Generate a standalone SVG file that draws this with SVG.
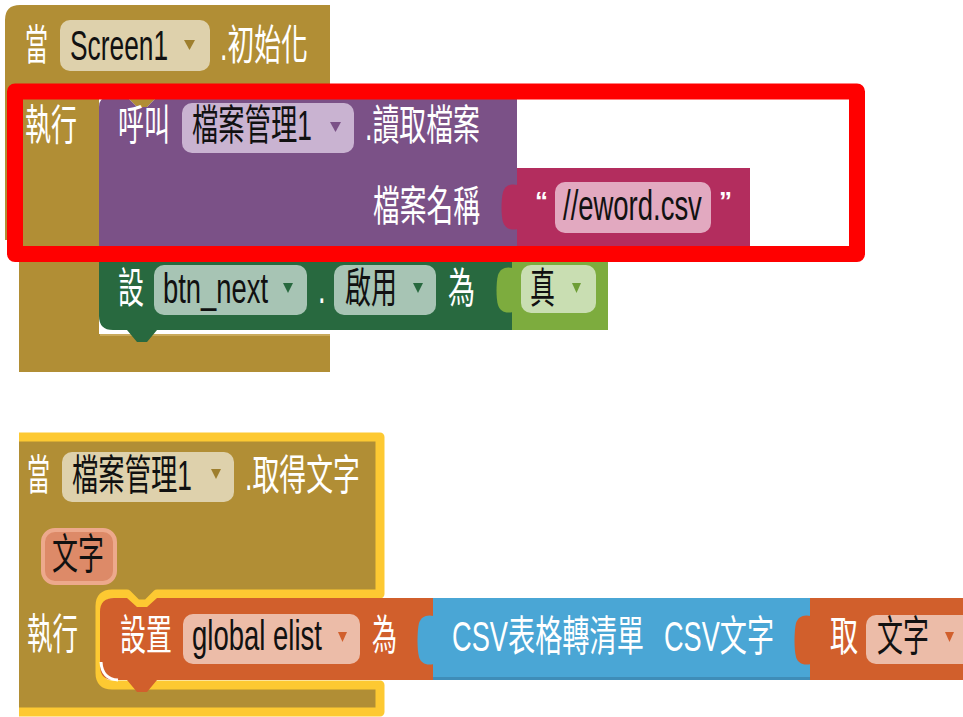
<svg xmlns="http://www.w3.org/2000/svg" width="963" height="717" viewBox="0 0 963 717">
<defs>
<style>
text{font-family:"Liberation Sans","Noto Sans CJK TC",sans-serif;font-size:42px}
.w{fill:#ffffff}
.k{fill:#111111}
.q{font-size:26px;font-weight:bold;fill:#ffffff}
.brown{fill:#B18E35}
.pill-brown{fill:#DED1AC}
.purple{fill:#7B5187}
.pill-purple{fill:#C9B3D1}
.magenta{fill:#B32D5E}
.pill-magenta{fill:#E2A9C0}
.green{fill:#28693F}
.pill-green{fill:#A7C4B4}
.lgreen{fill:#7DAC3E}
.pill-lgreen{fill:#C9DEB2}
.orange{fill:#D15F2C}
.pill-orange{fill:#ECBCA8}
.blue{fill:#4AA6D5}
</style>
</defs>
<rect width="963" height="717" fill="#ffffff"/>

<g id="node-screen1-initialize">
<path class="brown" d="M5,20 Q5,5 20,5 H330 V97 H157 L147,107 H137 L127,97 H99 V334 H330 V372 H19 V240 H5 Z"/>
<line x1="100" y1="335" x2="330" y2="335" stroke="#C9AA5C" stroke-width="2"/>
<text class="w" transform="translate(25,60) scale(0.548,1)">當</text>
<rect class="pill-brown" x="60" y="20" width="150" height="51" rx="10"/>
<text class="k" transform="translate(70,60) scale(0.627,1)">Screen1</text>
<polygon points="184,40 195,40 189.5,50" fill="#9E7F2E"/>
<text class="w" transform="translate(220,60) scale(0.639,1)">.初始化</text>
<text class="w" transform="translate(25,140) scale(0.619,1)">執行</text>
</g>

<g id="node-call-read-file">
<path class="purple" d="M99,107 Q99,97 109,97 H127 L137,107 H147 L157,97 H517 V250 H99 Z"/>
<text class="w" transform="translate(118,140) scale(0.619,1)">呼叫</text>
<rect class="pill-purple" x="182" y="103" width="172" height="50" rx="10"/>
<text class="k" transform="translate(192,140) scale(0.627,1)">檔案管理1</text>
<polygon points="330,122 341,122 335.5,132" fill="#7B5187"/>
<text class="w" transform="translate(365,140) scale(0.64,1)">.讀取檔案</text>
<text class="w" transform="translate(373,221) scale(0.637,1)">檔案名稱</text>
</g>

<g id="node-text-eword">
<rect class="magenta" x="517" y="168" width="233" height="82"/>
<path class="magenta" d="M518,185 C510,183 505,186 503,192 C501,200 501,215 503,222 C505,228 510,231 518,229 Z"/>
<text class="q" x="535" y="210">“</text>
<rect class="pill-magenta" x="555" y="182" width="156" height="51" rx="10"/>
<text class="k" transform="translate(563,220) scale(0.654,1)">//eword.csv</text>
<text class="q" x="719" y="210">”</text>
</g>

<g id="node-set-btn-enabled">
<path class="green" d="M99,250 H512 V330 H157 L147,342 H137 L127,330 H113 Q99,330 99,316 Z"/>
<text class="w" transform="translate(118,303) scale(0.619,1)">設</text>
<rect class="pill-green" x="154" y="265" width="153" height="50" rx="10"/>
<text class="k" transform="translate(163,303) scale(0.652,1)">btn_next</text>
<polygon points="283,283 293,283 288,293" fill="#28693F"/>
<text class="w" transform="translate(318,303) scale(0.65,1)">.</text>
<rect class="pill-green" x="334" y="265" width="102" height="50" rx="10"/>
<text class="k" transform="translate(345,303) scale(0.619,1)">啟用</text>
<polygon points="413,283 423,283 418,293" fill="#28693F"/>
<text class="w" transform="translate(448,303) scale(0.643,1)">為</text>
</g>

<g id="node-true">
<rect class="lgreen" x="512" y="262" width="96" height="68"/>
<path class="lgreen" d="M513,268 C505,266 500,269 498,275 C496,283 496,298 498,305 C500,311 505,314 513,312 Z"/>
<rect class="pill-lgreen" x="521" y="265" width="75" height="48" rx="10"/>
<text class="k" transform="translate(530,303) scale(0.595,1)">真</text>
<polygon points="572,283 581,283 576.5,293" fill="#6E9E36"/>
</g>

<g id="highlight-box">
<rect x="15" y="91.5" width="842" height="162.5" fill="none" stroke="#FF0000" stroke-width="16" stroke-linejoin="round"/>
</g>

<g id="node-file-gottext">
<path class="brown" d="M19,437 H380 V594 H157 L147,604 H137 L127,594 H112 Q100,594 100,606 V673 Q100,685 112,685 H380 V712 H19 Z"/>
<path d="M19,437 H380 V594 H157 L147,604 H137 L127,594 H112 Q100,594 100,606 V673 Q100,685 112,685 H380 V712 H19" fill="none" stroke="#FDC932" stroke-width="9" stroke-linejoin="round"/>
<text class="w" transform="translate(27,490) scale(0.548,1)">當</text>
<rect class="pill-brown" x="62" y="452" width="172" height="50" rx="10"/>
<text class="k" transform="translate(72,490) scale(0.627,1)">檔案管理1</text>
<polygon points="211,469 221,469 216,479" fill="#9E7F2E"/>
<text class="w" transform="translate(245,490) scale(0.64,1)">.取得文字</text>
<text class="w" transform="translate(27,649) scale(0.607,1)">執行</text>
</g>

<g id="node-param-text">
<rect x="43" y="530" width="72" height="53" rx="12" fill="#DD8A68" stroke="#EDA98C" stroke-width="4"/>
<text class="k" transform="translate(52,569) scale(0.619,1)">文字</text>
</g>

<g id="node-set-global-elist">
<path class="orange" d="M114,598 H127 L137,607 H147 L157,598 H433 V680 H157 L147,692 H137 L127,680 H114 Q100,680 100,666 V612 Q100,598 114,598 Z"/>
<path d="M101,662 Q102,679 118,680" fill="none" stroke="#ffffff" stroke-width="3"/>
<text class="w" transform="translate(120,650) scale(0.619,1)">設置</text>
<rect class="pill-orange" x="183" y="614" width="177" height="50" rx="10"/>
<text class="k" transform="translate(192,650) scale(0.655,1)">global elist</text>
<polygon points="338,632 347,632 342.5,642" fill="#D15F2C"/>
<text class="w" transform="translate(372,650) scale(0.595,1)">為</text>
</g>

<g id="node-csv-to-list">
<rect class="blue" x="433" y="598" width="377" height="82"/>
<rect x="433" y="677" width="377" height="3" fill="#3F8DB8"/>
<path class="blue" d="M434,616 C426,614 421,617 419,623 C417,631 417,650 419,657 C421,663 426,666 434,664 Z"/>
<text class="w" transform="translate(452,651) scale(0.648,1)">CSV表格轉清單</text>
<text class="w" transform="translate(664,651) scale(0.646,1)">CSV文字</text>
</g>

<g id="node-get-text">
<rect class="orange" x="810" y="598" width="160" height="82"/>
<path class="orange" d="M811,616 C803,614 798,617 796,623 C794,631 794,650 796,657 C798,663 803,666 811,664 Z"/>
<text class="w" transform="translate(830,651) scale(0.667,1)">取</text>
<rect class="pill-orange" x="866" y="615" width="110" height="49" rx="10"/>
<text class="k" transform="translate(877,651) scale(0.619,1)">文字</text>
<polygon points="945,632 954,632 949.5,642" fill="#D15F2C"/>
</g>

<g id="connectors"></g>
</svg>
